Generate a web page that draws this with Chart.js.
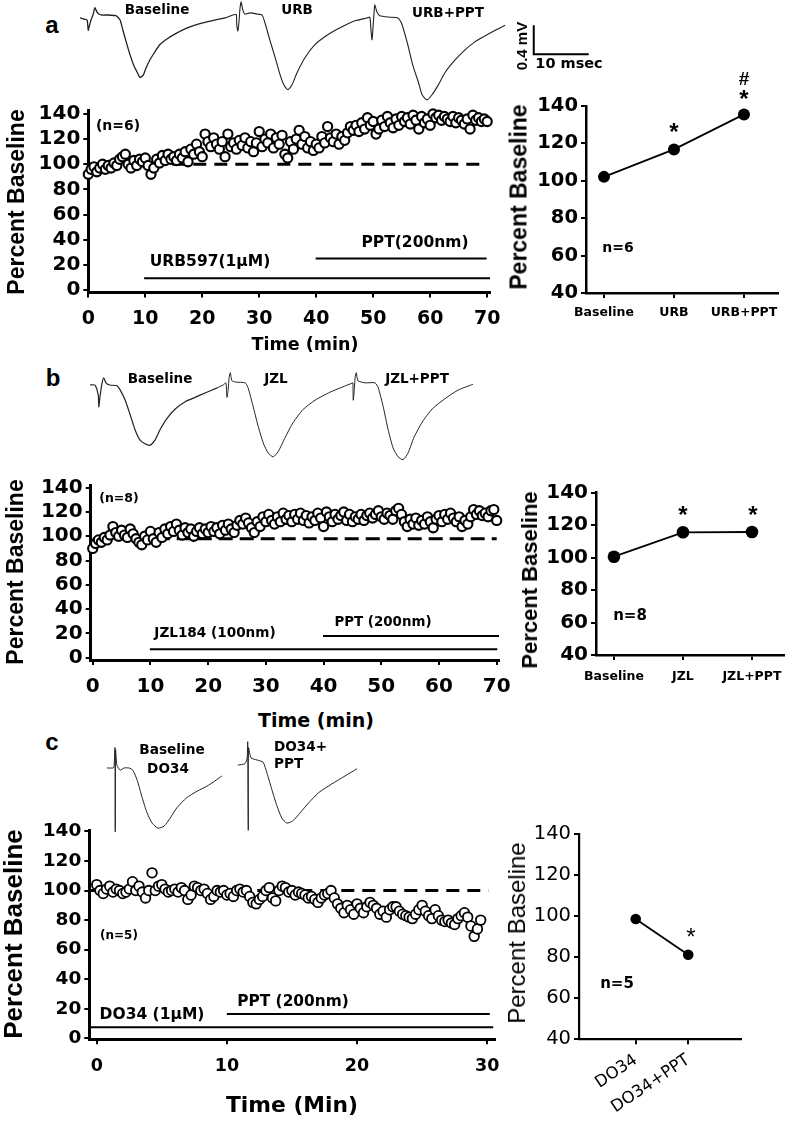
<!DOCTYPE html>
<html><head><meta charset="utf-8">
<script src="https://cdn.jsdelivr.net/npm/chart.js@4.4.1/dist/chart.umd.min.js"></script>
<style>
html,body{margin:0;padding:0;background:#fff;}
#root{position:relative;width:790px;height:1122px;overflow:hidden;background:#fff;}
canvas{position:absolute;}
.t{position:absolute;white-space:nowrap;line-height:1;color:#000;transform:translate(-50%,-50%);}
.r{transform:translate(-50%,-50%) rotate(-90deg);}
.dj{font-family:'DejaVu Sans',sans-serif;font-weight:bold;}
.djr{font-family:'DejaVu Sans',sans-serif;font-weight:normal;}
.ar{font-family:'Liberation Sans',Arial,sans-serif;font-weight:bold;}
.arr{font-family:'Liberation Sans',Arial,sans-serif;font-weight:normal;}
</style></head><body><div id="root"></div>
<script>
// ---------------- DATA ----------------
// Panel a: time course (percent baseline), one value every 0.5 min
const aStep = 0.5;
const aPercent = [92,96,98,94,97,100,96,99,97,101,99,104,106,108,100,97,103,99,104,102,
105,99,92,97,104,101,107,103,108,104,106,103,108,105,110,102,112,108,116,110,
106,124,118,114,121,116,112,118,106,124,114,117,112,119,115,121,113,118,110,117,
126,114,120,117,124,113,121,116,123,108,105,118,112,120,127,116,122,113,118,111,
116,113,122,117,130,121,118,124,116,122,119,125,130,127,131,126,133,128,137,131,
134,124,128,135,130,138,133,129,136,131,138,134,137,132,139,135,128,138,133,136,
131,140,137,139,135,138,136,134,138,133,137,135,132,136,128,139,135,137,134,136,134];
const aRefLevel = 100, aRefFrom = 0, aRefTo = 68.7;
const aDrug1 = [9.8, 70.5], aDrug1Level = 9.3;     // URB597
const aDrug2 = [39.9, 69.9], aDrug2Level = 25;     // PPT
const aCats = ['Baseline', 'URB', 'URB+PPT'];
const aMeans = [102.1, 116.8, 135.5];

// Panel b
const bStep = 0.5;
const bPercent = [90,94,97,95,99,97,101,108,103,100,105,101,99,106,102,98,95,93,100,97,
104,98,95,103,99,106,102,108,104,110,105,101,107,103,106,100,104,107,102,106,
103,108,104,107,102,109,105,110,106,103,109,113,110,115,111,107,103,112,108,116,
112,118,113,110,116,112,119,114,117,112,118,114,119,113,117,111,116,113,119,115,
108,120,116,112,118,114,117,120,113,118,112,116,114,118,113,117,119,115,118,121,
116,114,119,117,114,121,123,118,112,108,114,110,115,109,113,110,116,112,107,114,
117,112,118,114,119,115,112,116,108,113,110,116,122,118,121,117,119,116,121,122,113];
const bRefLevel = 98, bRefFrom = 0, bRefTo = 70;
const bDrug1 = [9.9, 70.1], bDrug1Level = 6.9;    // JZL184
const bDrug2 = [39.9, 70.4], bDrug2Level = 17.9;  // PPT
const bCats = ['Baseline', 'JZL', 'JZL+PPT'];
const bMeans = [100.5, 115.5, 115.7];

// Panel c, one value every 0.25 min
const cStep = 0.25;
const cPercent = [104,100,98,101,103,99,101,100,98,99,101,106,100,103,99,95,100,112,100,103,
104,101,99,100,101,99,102,100,94,97,103,102,100,101,98,94,96,100,99,100,
97,98,96,100,101,99,100,96,92,91,94,96,100,102,95,93,100,103,102,99,
100,97,99,98,97,95,96,94,92,95,97,98,100,95,91,88,85,90,87,84,
91,88,85,89,92,90,88,84,86,82,87,89,89,86,84,83,82,81,84,87,
90,86,83,81,87,83,80,79,80,78,77,81,83,85,82,76,69,74,80];
const cRefLevel = 100, cRefFrom = -0.57, cRefTo = 30.1;
const cDrug1 = [-0.57, 30.46], cDrug1Level = 7.5;  // DO34
const cDrug2 = [10, 30.2], cDrug2Level = 16.5;     // PPT
const cCats = ['DO34', 'DO34+PPT'];
const cMeans = [98.6, 81.2];

// Example field potential traces: [ms, mV]
const trA_base = [[0,-0.04],[0.9,-0.06],[1.3,-0.07],[1.5,-0.21],[1.6,-0.18],[2.0,-0.07],[2.4,0.01],[2.7,0.10],[3.1,0.04],[3.5,0.01],[4.0,0],[5.1,0],[6.5,-0.01],[6.9,-0.03],[7.3,-0.07],[7.8,-0.21],[8.4,-0.37],[9.1,-0.55],[9.8,-0.70],[10.4,-0.79],[10.9,-0.86],[11.5,-0.83],[12.0,-0.73],[12.7,-0.62],[13.6,-0.51],[14.5,-0.41],[15.6,-0.34],[17.3,-0.26],[19.1,-0.19],[20.9,-0.14],[22.7,-0.10],[24.5,-0.07],[26.4,-0.04],[27.8,0]];
const trA_urb = [[27.8,0],[28.4,0.01],[28.5,-0.14],[28.7,-0.22],[28.9,-0.10],[29.1,0.10],[29.3,0.18],[29.6,0.07],[30.0,0.01],[30.9,0.03],[32.4,0.01],[33.1,0],[33.6,-0.10],[34.5,-0.34],[35.5,-0.59],[36.4,-0.83],[37.1,-0.97],[37.8,-1.03],[38.5,-0.97],[39.5,-0.79],[40.9,-0.59],[42.7,-0.41],[44.5,-0.30],[46.4,-0.21],[48.2,-0.14],[50.0,-0.08],[52.2,-0.04]];
const trA_ppt = [[52.2,-0.04],[52.7,-0.03],[52.9,-0.21],[53.1,-0.34],[53.3,-0.14],[53.5,0.07],[53.6,0.14],[54.0,0.04],[54.5,-0.01],[56.4,-0.03],[57.8,-0.04],[58.5,-0.12],[59.6,-0.41],[60.5,-0.69],[61.5,-0.92],[62.2,-1.10],[63.1,-1.17],[64.0,-1.10],[65.1,-0.97],[66.4,-0.79],[68.2,-0.62],[70.0,-0.48],[71.8,-0.37],[73.6,-0.29],[75.5,-0.21],[77.3,-0.14]];
const scaleBarMs = 10, scaleBarMv = 0.4, scaleBarCorner = [82.5, -0.54];

const trB_base = [[0,0],[0.9,0],[1.5,-0.14],[1.6,-0.30],[1.8,-0.17],[2.2,0.03],[2.5,0.10],[2.9,0.03],[3.6,0],[4.9,-0.01],[5.5,-0.07],[6.4,-0.21],[7.3,-0.41],[8.2,-0.62],[9.1,-0.76],[10.0,-0.81],[10.9,-0.83],[11.8,-0.76],[12.7,-0.62],[14.0,-0.46],[15.5,-0.33],[17.3,-0.23],[19.1,-0.17],[20.9,-0.11],[23.1,-0.04]];
const trB_jzl = [[23.1,-0.04],[24.2,0],[24.7,0.03],[24.9,-0.17],[25.1,-0.07],[25.3,0.11],[25.5,0.17],[25.8,0.06],[26.5,0.04],[28.2,0.03],[28.7,-0.03],[29.6,-0.28],[30.5,-0.55],[31.5,-0.80],[32.4,-0.94],[33.3,-0.99],[34.2,-0.92],[35.5,-0.72],[36.9,-0.52],[38.7,-0.34],[40.9,-0.21],[43.6,-0.10],[45.8,-0.03],[47.8,0.03]];
const trB_ppt = [[47.8,0.03],[47.85,-0.21],[48.0,-0.11],[48.2,0.11],[48.4,0.17],[48.7,0.06],[50.0,0.03],[51.8,0.03],[52.4,-0.04],[53.3,-0.30],[54.2,-0.62],[55.1,-0.87],[56.0,-0.99],[56.9,-1.03],[57.8,-0.94],[58.9,-0.72],[60.4,-0.51],[62.2,-0.33],[64.5,-0.19],[66.9,-0.07],[69.6,0.01]];

const trC_base = [[0,0],[1.1,0],[1.27,0.01],[1.45,0.28],[1.5,-0.88],[1.56,0.25],[1.8,0.04],[2.4,-0.03],[3.1,0],[4.0,0],[4.7,-0.03],[5.5,-0.17],[6.4,-0.41],[7.3,-0.62],[8.2,-0.76],[9.3,-0.83],[10.4,-0.80],[11.5,-0.69],[12.7,-0.55],[14.5,-0.41],[16.4,-0.32],[18.2,-0.25],[19.6,-0.18],[20.9,-0.11]];
const trC_ppt = [[23.8,0.04],[25.1,0.06],[25.5,0.14],[25.6,0.36],[25.7,-0.86],[25.75,0.28],[26.2,0.14],[27.3,0.11],[28.4,0.08],[29.1,-0.07],[30.0,-0.30],[30.9,-0.52],[31.8,-0.69],[32.7,-0.76],[33.8,-0.73],[35.1,-0.62],[36.7,-0.48],[38.5,-0.34],[40.9,-0.22],[43.3,-0.11],[45.5,-0.01]];

// ---------------- RENDER ----------------
Chart.defaults.animation = false;
Chart.defaults.color = '#000';
const root = document.getElementById('root');
const PX_PER_MS = 5.5, PX_PER_MV = 72.5;

function mkCanvas(b) {
  const c = document.createElement('canvas');
  c.width = b.w; c.height = b.h;
  c.style.left = b.left + 'px'; c.style.top = b.top + 'px';
  c.style.width = b.w + 'px'; c.style.height = b.h + 'px';
  root.appendChild(c);
  return c;
}
function txt(s, x, y, size, cls, extra) {
  const d = document.createElement('div');
  d.className = 't ' + cls;
  d.textContent = s;
  d.style.left = x + 'px'; d.style.top = y + 'px'; d.style.fontSize = size + 'px';
  if (extra) Object.assign(d.style, extra);
  root.appendChild(d);
}
const pts = arr => arr.map(p => ({x: p[0], y: p[1]}));
const series = (vals, step) => vals.map((v, i) => ({x: i * step, y: v}));
const seg = (range, level) => [{x: range[0], y: level}, {x: range[1], y: level}];

function lineDs(data, width, dash) {
  return {data, showLine: true, borderColor: '#000', borderWidth: width, borderDash: dash || [], pointRadius: 0, clip: false, order: 2};
}
function circleDs(data, r, bw) {
  return {data, showLine: false, pointRadius: r, pointBorderWidth: bw, pointBorderColor: '#000', pointBackgroundColor: '#fff', clip: false, order: 1};
}
function meanDs(data, r) {
  return {data, showLine: true, borderColor: '#000', borderWidth: 1.8, pointRadius: r, pointBorderWidth: 0, pointBackgroundColor: '#000', pointBorderColor: '#000', clip: false, order: 1};
}

function axisChart(o) {
  const box = o.box, area = o.area;
  const c = mkCanvas(box);
  const fixPad = s => { s.paddingLeft = 0; s.paddingRight = 0; s.paddingTop = 0; s.paddingBottom = 0; };
  return new Chart(c, {
    type: 'scatter',
    data: {datasets: o.datasets},
    options: {
      responsive: false, animation: false, events: [],
      layout: {padding: {left: 0, top: area.t - box.top, right: box.left + box.w - area.r, bottom: 0}},
      plugins: {legend: {display: false}, tooltip: {enabled: false}},
      scales: {
        x: {
          type: 'linear', min: o.x.min, max: o.x.max,
          afterFit(s) { s.height = box.top + box.h - area.b; fixPad(s); },
          afterBuildTicks(s) { if (o.cats) s.ticks = s.ticks.filter(t => Number.isInteger(t.value) && t.value >= 0 && t.value < o.cats.length); },
          border: {display: true, color: '#000', width: o.bw},
          grid: {display: true, drawOnChartArea: false, drawTicks: true, tickLength: 5, color: '#000', lineWidth: 2},
          ticks: {includeBounds: false, stepSize: o.x.step, autoSkip: false,
                  minRotation: o.rot || 0, maxRotation: o.rot || 0,
                  padding: o.xPad, font: o.xFont, color: '#000',
                  callback: v => o.cats ? o.cats[v] : String(v)}
        },
        y: {
          type: 'linear', min: o.y.min, max: o.y.max,
          afterFit(s) { s.width = area.l - box.left; fixPad(s); },
          border: {display: true, color: '#000', width: o.bw},
          grid: {display: true, drawOnChartArea: false, drawTicks: true, tickLength: 5, color: '#000', lineWidth: 2},
          ticks: {includeBounds: false, stepSize: 20, autoSkip: false, padding: 3, font: o.yFont, color: '#000'}
        }
      }
    }
  });
}

function traceChart(left, top, xr, yr, datasets) {
  const box = {left, top, w: Math.round((xr[1] - xr[0]) * PX_PER_MS), h: Math.round((yr[1] - yr[0]) * PX_PER_MV)};
  const c = mkCanvas(box);
  return new Chart(c, {
    type: 'line',
    data: {datasets},
    options: {
      responsive: false, animation: false, events: [],
      layout: {padding: 0},
      plugins: {legend: {display: false}, tooltip: {enabled: false}},
      scales: {
        x: {type: 'linear', display: false, min: xr[0], max: xr[1]},
        y: {type: 'linear', display: false, min: yr[0], max: yr[1]}
      }
    }
  });
}
function traceDs(arr, w) {
  return {data: pts(arr), borderColor: '#222', borderWidth: w || 1.1, pointRadius: 0, tension: 0.2, clip: false};
}

const DJB = (size) => ({family: "'DejaVu Sans', sans-serif", weight: 'bold', size});
const DJR = (size) => ({family: "'DejaVu Sans', sans-serif", weight: 'normal', size});

// ---- Panel a ----
traceChart(80, 0, [0, 94], [-1.241, 0.207], [
  traceDs(trA_base, 1.3), traceDs(trA_urb, 1.1), traceDs(trA_ppt, 1.1),
  {data: [{x: scaleBarCorner[0], y: scaleBarCorner[1] + scaleBarMv}, {x: scaleBarCorner[0], y: scaleBarCorner[1]}, {x: scaleBarCorner[0] + scaleBarMs, y: scaleBarCorner[1]}],
   borderColor: '#000', borderWidth: 2, pointRadius: 0, tension: 0, clip: false}
]);
axisChart({
  box: {left: 0, top: 100, w: 500, h: 240}, area: {l: 88.3, t: 110.2, r: 490, b: 292.5},
  x: {min: 0, max: 70.5, step: 10}, y: {min: -2, max: 143}, bw: 3,
  xFont: DJB(19), yFont: DJB(20), xPad: 10.5,
  datasets: [
    circleDs(series(aPercent, aStep), 4.6, 2.1),
    lineDs(seg([aRefFrom, aRefTo], aRefLevel), 3, [13, 8]),
    lineDs(seg(aDrug1, aDrug1Level), 2),
    lineDs(seg(aDrug2, aDrug2Level), 2)
  ]
});
axisChart({
  box: {left: 500, top: 95, w: 290, h: 235}, area: {l: 586, t: 106, r: 778, b: 293},
  x: {min: -0.257, max: 2.486, step: 1}, y: {min: 40, max: 140}, bw: 2.5, cats: aCats,
  xFont: DJB(12.5), yFont: DJB(19.5), xPad: 7.5,
  datasets: [meanDs(series(aMeans, 1), 6)]
});

// ---- Panel b ----
traceChart(90, 365, [0, 71.8], [-1.172, 0.276], [
  traceDs(trB_base, 1.2), traceDs(trB_jzl, 1), traceDs(trB_ppt, 1)
]);
axisChart({
  box: {left: 0, top: 475, w: 510, h: 225}, area: {l: 90.7, t: 485, r: 499, b: 660},
  x: {min: -0.35, max: 70.4, step: 10}, y: {min: -1.9, max: 142.2}, bw: 3,
  xFont: DJB(20), yFont: DJB(20), xPad: 10,
  datasets: [
    circleDs(series(bPercent, bStep), 4.6, 2.1),
    lineDs(seg([bRefFrom, bRefTo], bRefLevel), 3, [14, 7]),
    lineDs(seg(bDrug1, bDrug1Level), 2),
    lineDs(seg(bDrug2, bDrug2Level), 2)
  ]
});
axisChart({
  box: {left: 505, top: 480, w: 285, h: 215}, area: {l: 596, t: 492.5, r: 785, b: 655},
  x: {min: -0.26, max: 2.46, step: 1}, y: {min: 40, max: 140}, bw: 2.5, cats: bCats,
  xFont: DJB(12.5), yFont: DJB(20), xPad: 9,
  datasets: [meanDs(series(bMeans, 1), 6.3)]
});

// ---- Panel c ----
traceChart(107, 735, [0, 47.3], [-0.993, 0.455], [
  traceDs(trC_base, 1), traceDs(trC_ppt, 1)
]);
axisChart({
  box: {left: 0, top: 820, w: 505, h: 300}, area: {l: 89.3, t: 830, r: 495, b: 1039.3},
  x: {min: -0.57, max: 30.6, step: 10}, y: {min: -0.7, max: 141}, bw: 3,
  xFont: DJB(17.5), yFont: DJB(18.5), xPad: 12,
  datasets: [
    circleDs(series(cPercent, cStep), 4.8, 1.8),
    lineDs(seg([cRefFrom, cRefTo], cRefLevel), 3, [13, 8]),
    lineDs(seg(cDrug1, cDrug1Level), 2),
    lineDs(seg(cDrug2, cDrug2Level), 2)
  ]
});
axisChart({
  box: {left: 500, top: 822, w: 290, h: 298}, area: {l: 579, t: 834, r: 740.7, b: 1039.3},
  x: {min: -1.08, max: 2.0, step: 1}, y: {min: 40, max: 140}, bw: 2.2, cats: cCats, rot: 34,
  xFont: DJR(16.5), yFont: DJR(19.5), xPad: 6,
  datasets: [meanDs(series(cMeans, 1), 5.3)]
});

// ---------------- TEXT ----------------
// panel a
txt('a', 52, 25, 24, 'ar');
txt('Baseline', 157, 10, 13.5, 'dj');
txt('URB', 297, 10, 13.5, 'dj');
txt('URB+PPT', 448, 13, 13.5, 'dj');
txt('0.4 mV', 521, 46, 15, 'ar r');
txt('10 msec', 569, 63, 14.5, 'dj');
txt('(n=6)', 118, 125, 14, 'dj');
txt('URB597(1\u03bcM)', 210, 262, 15.5, 'dj');
txt('PPT(200nm)', 415, 243, 15.5, 'dj');
txt('Percent Baseline', 16, 202, 23, 'ar r');
txt('Time (min)', 305, 345, 17.5, 'dj');
txt('Percent Baseline', 519, 197, 23, 'ar r');
txt('n=6', 618, 247, 14, 'dj');
txt('*', 674, 132, 24, 'ar');
txt('#', 744, 78, 19, 'ar');
txt('*', 744, 99, 24, 'ar');
// panel b
txt('b', 53, 378, 24, 'ar');
txt('Baseline', 160, 379, 13.5, 'dj');
txt('JZL', 276, 379, 13.5, 'dj');
txt('JZL+PPT', 417, 379, 13.5, 'dj');
txt('(n=8)', 119, 498, 12.5, 'dj');
txt('JZL184 (100nm)', 215, 633, 13.6, 'dj');
txt('PPT (200nm)', 383, 622, 13.4, 'dj');
txt('Percent Baseline', 15, 572, 23, 'ar r');
txt('Time (min)', 316, 720, 19, 'dj');
txt('Percent Baseline', 530, 580, 22, 'ar r');
txt('n=8', 630, 615, 15, 'dj');
txt('*', 683, 515, 24, 'ar');
txt('*', 753, 515, 24, 'ar');
// panel c
txt('c', 52, 742, 24, 'ar');
txt('Baseline', 172, 750, 13.7, 'dj');
txt('DO34', 168, 769, 13.6, 'dj');
txt('DO34+', 274, 747, 13.6, 'dj', {transform: 'translate(0,-50%)'});
txt('PPT', 274, 764, 13.6, 'dj', {transform: 'translate(0,-50%)'});
txt('(n=5)', 119, 935, 12, 'dj');
txt('DO34 (1\u03bcM)', 152, 1015, 15.5, 'dj');
txt('PPT (200nm)', 293, 1002, 15.4, 'dj');
txt('Percent Baseline', 13, 934, 26, 'ar r');
txt('Time (Min)', 292, 1105, 21.8, 'dj');
txt('Percent Baseline', 517, 933, 24, 'arr r');
txt('n=5', 617, 983, 15, 'djr', {fontWeight: '600'});
txt('*', 691, 937, 24, 'arr');
</script>
</body></html>
